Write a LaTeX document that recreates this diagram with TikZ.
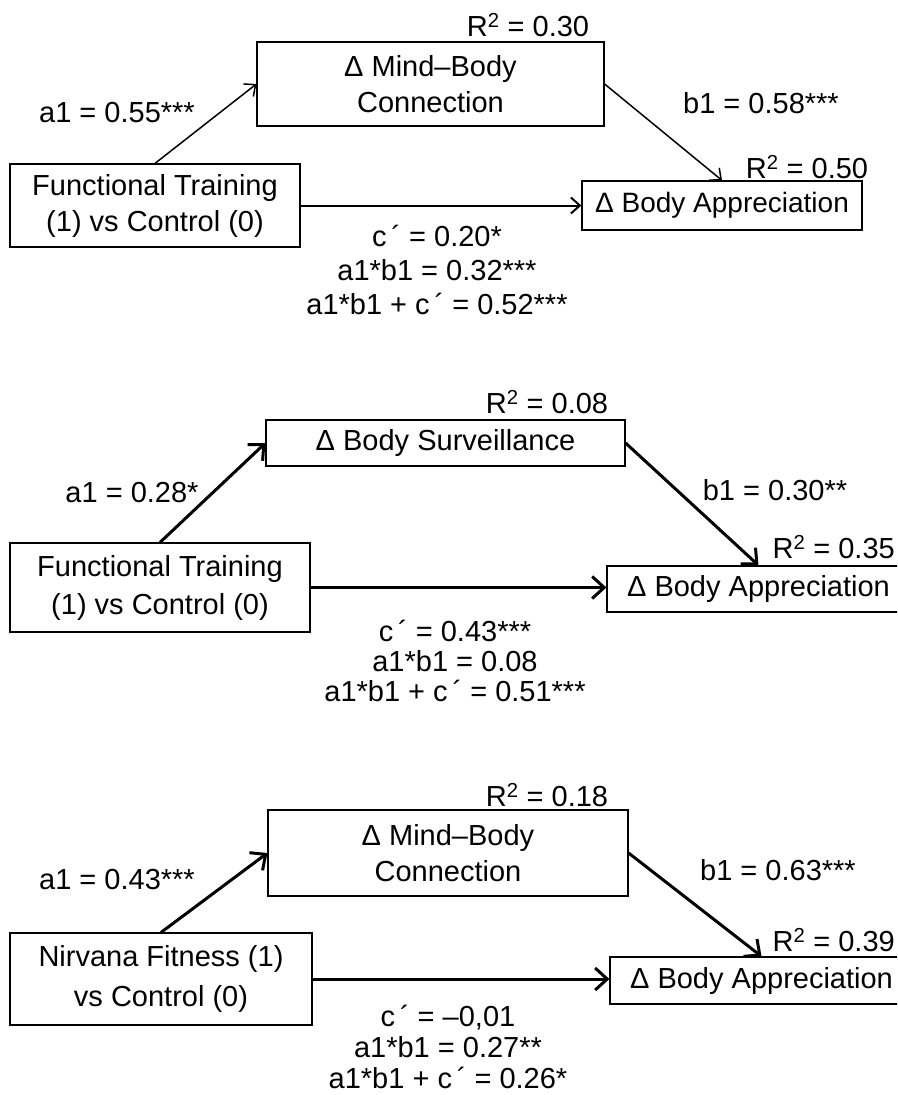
\documentclass[tikz,border=0pt]{standalone}
\usepackage{fontspec}
\setmainfont{Liberation Sans}
\usetikzlibrary{arrows.meta}

\tikzset{
    varbox/.style={draw, line width=1.2pt, inner sep=0pt, align=center,
        font=\fontsize{29}{36}\selectfont},
    lbl/.style={inner sep=0pt, align=center, font=\fontsize{29}{34}\selectfont},
    thinpath/.style={line width=1.5pt, -{Straight Barb[length=9pt,width=16pt]}},
    thickpath/.style={line width=3pt, -{Straight Barb[length=12pt,width=22pt]}},
}

\begin{document}
\begin{tikzpicture}[x=1pt,y=-1pt]
    \useasboundingbox (0,0) rectangle (897,1095);
    \clip (0,0) rectangle (897,1095);
    \fill[white] (0,0) rectangle (897,1095);

    % first model
    \node[varbox, minimum width=347pt, minimum height=84pt] (mb1) at (430.5,84) {Δ Mind–Body\\Connection};
    \node[varbox, minimum width=290pt, minimum height=83pt] (ft1) at (155,205.5) {Functional Training\\(1) vs Control (0)};
    \node[varbox, minimum width=280pt, minimum height=49pt, font=\fontsize{28}{36}\selectfont] (ba1) at (722,205.5) {Δ Body Appreciation};
    \draw[thinpath] (ft1.north) -- (mb1.west);
    \draw[thinpath] (mb1.east) -- (ba1.north);
    \draw[thinpath, line width=2pt] (ft1.east) -- (ft1.east -| ba1.west);
    \node[lbl] (r1m) at (528,25) {R\textsuperscript{2} = 0.30};
    \node[lbl] (r1y) at (807,167) {R\textsuperscript{2} = 0.50};
    \node[lbl] (a1) at (117,113) {a1 = 0.55***};
    \node[lbl] (b1) at (761,103) {b1 = 0.58***};
    \node[lbl] (e1) at (437,270) {c\,´ = 0.20*\\a1*b1 = 0.32***\\a1*b1 + c\,´ = 0.52***};

    % second model
    \node[varbox, minimum width=359pt, minimum height=46pt] (bs2) at (445.5,443) {Δ Body Surveillance};
    \node[varbox, minimum width=300pt, minimum height=89pt, font=\fontsize{29}{38}\selectfont] (ft2) at (160,587.5) {Functional Training\\(1) vs Control (0)};
    \node[varbox, minimum width=303pt, minimum height=46pt] (ba2) at (758.5,589) {Δ Body Appreciation};
    \draw[thickpath] (ft2.north) -- (bs2.west);
    \draw[thickpath] (bs2.east) -- (ba2.north);
    \draw[thickpath] (ft2.east) -- (ft2.east -| ba2.west);
    \node[lbl] (r2m) at (547,402) {R\textsuperscript{2} = 0.08};
    \node[lbl, anchor=east] (r2y) at (895,547) {R\textsuperscript{2} = 0.35};
    \node[lbl] (a2) at (132,493) {a1 = 0.28*};
    \node[lbl] (b2) at (775,490) {b1 = 0.30**};
    \node[lbl, font=\fontsize{29}{30}\selectfont] (e2) at (455,661) {c\,´ = 0.43***\\a1*b1 = 0.08\\a1*b1 + c\,´ = 0.51***};

    % third model
    \node[varbox, minimum width=360pt, minimum height=86pt] (mb3) at (448,853) {Δ Mind–Body\\Connection};
    \node[varbox, minimum width=302pt, minimum height=92pt, font=\fontsize{29}{40}\selectfont] (nf3) at (161,979) {Nirvana Fitness (1)\\vs Control (0)};
    \node[varbox, minimum width=303pt, minimum height=47pt] (ba3) at (761.5,980.5) {Δ Body Appreciation};
    \draw[thickpath] (nf3.north) -- (mb3.west);
    \draw[thickpath] (mb3.east) -- (ba3.north);
    \draw[thickpath] (nf3.east) -- (nf3.east -| ba3.west);
    \node[lbl] (r3m) at (547,795) {R\textsuperscript{2} = 0.18};
    \node[lbl, anchor=east] (r3y) at (895,940) {R\textsuperscript{2} = 0.39};
    \node[lbl] (a3) at (117,880) {a1 = 0.43***};
    \node[lbl] (b3) at (778,870) {b1 = 0.63***};
    \node[lbl, font=\fontsize{29}{31}\selectfont] (e3) at (448,1047) {c\,´ = –0,01\\a1*b1 = 0.27**\\a1*b1 + c\,´ = 0.26*};
\end{tikzpicture}
\end{document}
